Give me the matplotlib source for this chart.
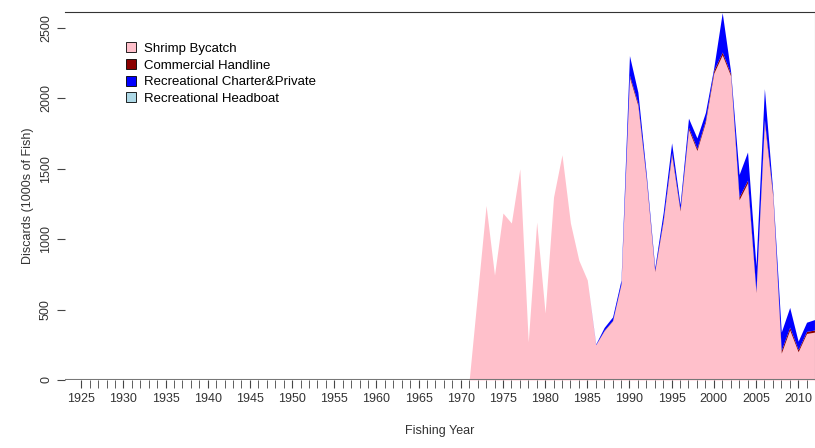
import numpy as np
import matplotlib.pyplot as plt

plt.rcParams['font.family'] = ['Liberation Sans', 'DejaVu Sans']

years = np.arange(1925, 2013)

# values (1000s of fish), from 1971 on; zero before
yr_data = list(range(1971, 2013))
shrimp = [0, 620, 1240, 745, 1186, 1115, 1500, 270, 1122, 475, 1300, 1600, 1115, 850,
          710, 250, 350, 420, 680, 2150, 1950, 1420, 770, 1130, 1600, 1200, 1780, 1630,
          1830, 2180, 2310, 2160, 1280, 1400, 620, 1830, 1300, 190, 355, 200, 330, 340]
commercial = [0, 0, 0, 0, 0, 0, 0, 0, 0, 0, 0, 0, 0, 0,
              0, 0, 3, 3, 5, 15, 15, 10, 8, 10, 15, 12, 15, 15,
              15, 20, 20, 15, 20, 20, 10, 20, 15, 20, 20, 15, 15, 15]
charter = [0, 0, 0, 0, 0, 0, 0, 0, 0, 0, 0, 0, 0, 0,
           0, 5, 20, 25, 25, 140, 80, 30, 20, 50, 70, 35, 65, 75,
           55, 20, 280, 15, 160, 200, 180, 220, 20, 130, 140, 60, 65, 75]
headboat = [0] * len(yr_data)

def full(vals):
    out = np.zeros(len(years))
    out[years >= 1971] = vals
    return out

layers = [full(shrimp), full(commercial), full(charter), full(headboat)]
labels = ['Shrimp Bycatch', 'Commercial Handline', 'Recreational Charter&Private', 'Recreational Headboat']
colors = ['pink', 'darkred', 'blue', 'lightblue']

fig = plt.figure(figsize=(8.15, 4.48), dpi=100)
ax = fig.add_axes([0.08, 0.152, 0.92, 0.821])
base = np.zeros(len(years))
for vals, lab, col in zip(layers, labels, colors):
    ax.fill_between(years, base, base + vals, color=col, linewidth=0, label=lab)
    base = base + vals

ax.set_xlim(1923.1, 2012)
ax.set_ylim(0, 2614)
ax.set_xticks(np.arange(1925, 2013, 1), minor=True)
ax.set_xticks(np.arange(1925, 2011, 5))
ax.tick_params(axis='x', which='both', length=6, labelsize=9, color='#444444', labelcolor='#333333')
ax.tick_params(axis='y', labelsize=9, length=6, color='#444444', labelcolor='#333333')
ax.set_yticks([0, 500, 1000, 1500, 2000, 2500])
plt.setp(ax.get_yticklabels(), rotation=90, va='center')
for s in ['left', 'bottom']:
    ax.spines[s].set_visible(False)
ax.spines['top'].set_color('#333333')
ax.spines['right'].set_color('#999999')
ax.axhline(0, color='#777777', linewidth=1.5)
ax.set_xlabel('Fishing Year', fontsize=9, color='#333333', labelpad=14)
ax.set_ylabel('Discards (1000s of Fish)', fontsize=9, color='#333333')
leg = ax.legend(loc='upper left', bbox_to_anchor=(0.065, 0.95), frameon=False, fontsize=9.5,
                handlelength=0.8, handleheight=0.8, labelspacing=0.3, handletextpad=0.6)
for h in leg.legend_handles:
    h.set_edgecolor('black')
    h.set_linewidth(0.6)
fig.savefig('out.png', dpi=100)
